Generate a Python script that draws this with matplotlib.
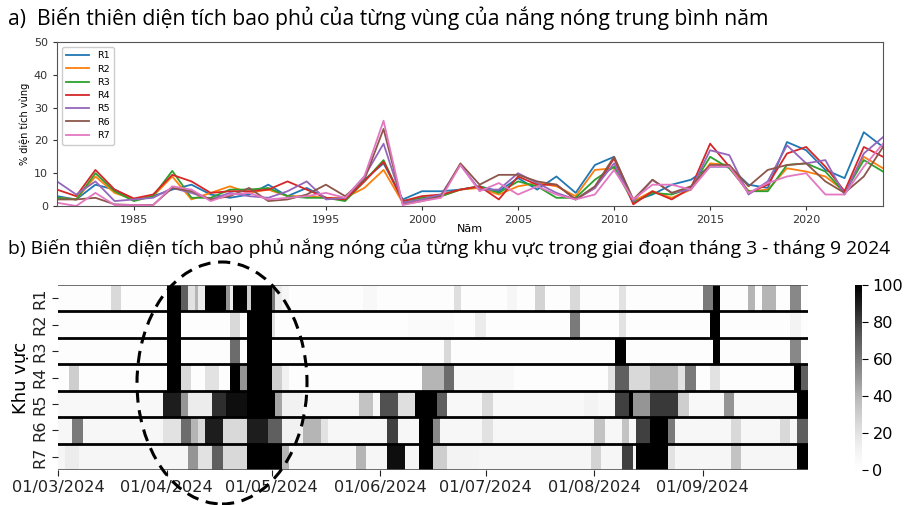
import numpy as np
import matplotlib
matplotlib.use("Agg")
import matplotlib.pyplot as plt
from matplotlib.patches import Ellipse

# =============================================================================
# Data
# =============================================================================

years = list(range(1981, 2025))
regions = ["R1", "R2", "R3", "R4", "R5", "R6", "R7"]

# Annual mean % of region area under heat
r1 = [3, 2, 6.5, 5, 2, 3, 5, 6.5, 3.5, 2.5, 3.5, 6.5, 3, 5.5, 2.5, 2, 8, 13, 2, 4.5,
      4.5, 5, 6, 4.5, 8.5, 5, 9, 4, 12.5, 15, 1.5, 3.5, 6.5, 8, 12, 12, 6.5, 5.5,
      19.5, 17, 11, 8.5, 22.5, 18]
r2 = [2.5, 2, 9, 4, 2, 3, 9, 2, 4, 6, 4, 5, 3, 3, 2.5, 2.5, 5.5, 11, 1, 2,
      3, 5, 5.5, 3.5, 6, 7, 6, 3, 11, 11.5, 1.5, 4.5, 2.5, 5, 13, 12.5, 4.5, 5,
      11.5, 10.5, 9, 4.5, 15, 11.5]
r3 = [2.5, 2, 10, 4.5, 1.5, 3, 10.7, 2.5, 2.5, 5, 5, 5.5, 3, 2.5, 2.5, 1.5, 7.5, 14, 1.5, 2.5,
      3, 5, 6, 4, 7.5, 6, 2.5, 2.5, 8, 12, 1, 4, 3.5, 5.5, 15, 11.5, 4.5, 4.5,
      12.5, 13, 10.5, 4, 14, 10.5]
r4 = [5, 3, 11, 5, 2.3, 3.5, 9.5, 7.5, 4, 4.5, 4.5, 5, 7.5, 5, 2.5, 2, 7.5, 13.5, 1.5, 3,
      3.5, 5, 6, 2, 9, 6.5, 6.5, 2, 5.5, 14.5, 0.5, 4.5, 2, 5.5, 19, 12, 4, 6.5,
      16, 18, 12, 4.5, 18, 15]
r5 = [7.5, 3.5, 7.5, 1.5, 2, 2.5, 5.5, 4, 2, 4, 3, 2.5, 4.5, 7.5, 2, 2.5, 9, 19, 1, 2,
      3.5, 12.5, 5, 5, 10, 7, 4, 2, 5.5, 13, 1.5, 8, 4, 5, 17, 15.5, 3.5, 7.5,
      18.5, 13, 14, 3.5, 16, 21]
r6 = [2, 2, 2.5, 0.5, 0.3, 0.3, 5.5, 4.5, 2, 3, 5.5, 1.5, 2, 3.5, 6.5, 3, 8, 23.5, 0.5, 1.5,
      3, 13, 6.5, 9.5, 9.5, 7.5, 6.5, 2, 6, 15, 2, 8, 4, 6, 12.5, 12.5, 6, 11,
      12.5, 13, 7.5, 4, 9, 18]
r7 = [1, 0, 4, 0.3, 0.3, 0.2, 6, 5, 1.5, 3.5, 4, 2, 2.5, 3, 4, 2.5, 9, 26, 0.3, 1.5,
      2.5, 12.5, 4.5, 7, 3.5, 6, 3.5, 2, 3.5, 11, 2, 6.5, 6.5, 5, 12, 12, 4, 7,
      9, 10, 3.5, 3.5, 12, 19]
series = [r1, r2, r3, r4, r5, r6, r7]

# Daily % coverage, 01/03/2024 - 30/09/2024 (panel b), as runs of
# (first day, day after last, value) over a light background level
n_days = 214
month_ticks = [0, 31, 61, 92, 122, 153, 184]
month_labels = ["01/03/2024", "01/04/2024", "01/05/2024", "01/06/2024",
                "01/07/2024", "01/08/2024", "01/09/2024"]

base_levels = [2, 2, 2, 2, 6, 7, 8]
runs_r1 = [(15, 18, 25), (31, 35, 100), (35, 37, 70), (37, 39, 20), (39, 40, 40),
           (40, 42, 15), (42, 48, 100), (48, 49, 50), (49, 50, 15), (50, 54, 100),
           (54, 55, 30), (55, 61, 100), (61, 62, 60), (62, 64, 15), (64, 66, 8),
           (87, 91, 6), (113, 115, 22), (128, 131, 8), (136, 139, 28), (146, 149, 25),
           (160, 162, 20), (184, 187, 60), (187, 189, 100), (197, 199, 40),
           (201, 205, 40), (209, 212, 55)]
runs_r2 = [(31, 35, 100), (49, 52, 25), (54, 61, 100), (61, 62, 20), (100, 113, 4),
           (119, 122, 15), (146, 149, 60), (160, 162, 20), (186, 189, 100),
           (209, 212, 10)]
runs_r3 = [(31, 35, 100), (49, 52, 65), (54, 61, 100), (110, 112, 25),
           (159, 162, 100), (187, 189, 100), (209, 212, 55)]
runs_r4 = [(3, 6, 30), (31, 35, 100), (35, 38, 25), (42, 46, 20), (49, 52, 100),
           (52, 54, 50), (54, 61, 100), (61, 64, 30), (64, 66, 12), (104, 110, 40),
           (110, 113, 65), (113, 130, 6), (157, 159, 20), (159, 163, 70),
           (163, 169, 25), (169, 177, 40), (177, 179, 20), (179, 182, 60),
           (186, 189, 20), (210, 212, 100), (212, 214, 70)]
runs_r5 = [(30, 35, 90), (35, 37, 50), (37, 44, 15), (44, 48, 85), (48, 54, 95),
           (54, 62, 100), (62, 64, 45), (64, 70, 12), (86, 90, 35), (92, 97, 75),
           (97, 102, 22), (102, 108, 100), (108, 111, 70), (121, 124, 25),
           (150, 154, 10), (159, 163, 80), (163, 164, 100), (164, 169, 50),
           (169, 177, 82), (177, 180, 30), (190, 193, 50), (211, 214, 100)]
runs_r6 = [(4, 7, 60), (30, 35, 20), (35, 38, 65), (38, 40, 40), (40, 42, 25),
           (42, 47, 90), (47, 54, 25), (54, 60, 90), (60, 64, 70), (64, 70, 12),
           (70, 75, 40), (75, 77, 20), (94, 97, 80), (103, 107, 100), (107, 109, 55),
           (121, 124, 20), (153, 156, 35), (161, 163, 35), (165, 169, 80),
           (169, 174, 100), (174, 176, 60), (192, 195, 25), (206, 209, 25),
           (211, 214, 70)]
runs_r7 = [(2, 6, 15), (37, 40, 50), (40, 44, 20), (44, 47, 70), (47, 54, 25),
           (54, 64, 100), (64, 66, 40), (85, 88, 40), (94, 99, 95), (103, 107, 100),
           (107, 111, 30), (111, 120, 10), (152, 155, 28), (161, 164, 80),
           (165, 174, 100), (174, 176, 20), (192, 195, 35), (211, 214, 100)]
all_runs = [runs_r1, runs_r2, runs_r3, runs_r4, runs_r5, runs_r6, runs_r7]

# =============================================================================
# Figure
# =============================================================================

W, H = 909, 505
fig = plt.figure(figsize=(W / 100, H / 100), dpi=100)

title_font = ["Open Sans", "DejaVu Sans"]
fig.text(8 / W, 1 - 18 / H,
         "a)  Biến thiên diện tích bao phủ của từng vùng của nắng nóng trung bình năm",
         fontsize=15.2, family=title_font, va="center", ha="left")
fig.text(8 / W, 1 - 248 / H,
         "b) Biến thiên diện tích bao phủ nắng nóng của từng khu vực trong giai đoạn tháng 3 - tháng 9 2024",
         fontsize=13.9, family=title_font, va="center", ha="left")

# --- panel a: annual lines ---------------------------------------------------
ax1 = fig.add_axes([57 / W, 1 - 206 / H, (883 - 57) / W, (206 - 42) / H])
for name, vals in zip(regions, series):
    ax1.plot(years, vals, lw=1.3, label=name)
ax1.set_xlim(1981, 2024)
ax1.set_ylim(0, 50)
ax1.set_xticks([1985, 1990, 1995, 2000, 2005, 2010, 2015, 2020])
ax1.set_yticks([0, 10, 20, 30, 40, 50])
ax1.tick_params(labelsize=8, length=3, width=0.8, colors="#333333")
for sp in ax1.spines.values():
    sp.set_color("#555555")
ax1.set_ylabel("% diện tích vùng", fontsize=7, labelpad=3)
ax1.set_xlabel("Năm", fontsize=8, labelpad=-1)
ax1.legend(loc="upper left", fontsize=6.8, handlelength=2.4, labelspacing=0.45,
           borderpad=0.5, framealpha=1, edgecolor="#cccccc")

# --- panel b: daily heatmap ---------------------------------------------------
grid = np.zeros((len(regions), n_days))
for i, (base, runs) in enumerate(zip(base_levels, all_runs)):
    grid[i, :] = base
    for start, stop, val in runs:
        grid[i, start:stop] = val

ax2 = fig.add_axes([58 / W, 1 - 470 / H, (808 - 58) / W, (470 - 285) / H])
mesh = ax2.pcolormesh(np.arange(n_days + 1), np.arange(len(regions) + 1), grid,
                      cmap="Greys", vmin=0, vmax=100, shading="flat")
ax2.set_xlim(0, n_days)
ax2.set_ylim(len(regions), 0)
for y in range(1, len(regions)):
    ax2.axhline(y, color="black", lw=2)
ax2.axhline(0, color="#555555", lw=1.2)
ax2.axhline(len(regions), color="#555555", lw=1.2)
for sp in ax2.spines.values():
    sp.set_visible(False)
ax2.set_xticks(month_ticks)
ax2.set_xticklabels(month_labels, fontsize=11.6)
ax2.set_yticks(np.arange(len(regions)) + 0.5)
ax2.set_yticklabels(regions, rotation=90, va="center", fontsize=11.6)
ax2.tick_params(axis="both", length=4, width=0.8, colors="#222222")
ax2.set_ylabel("Khu vực", fontsize=13, labelpad=2)

cax = fig.add_axes([855 / W, 1 - 470 / H, 7 / W, (470 - 285) / H])
cb = fig.colorbar(mesh, cax=cax, ticks=[0, 20, 40, 60, 80, 100])
cb.outline.set_visible(False)
cb.ax.tick_params(labelsize=11.6, length=4, width=0.8)

# dashed ellipse highlighting April
fig.add_artist(Ellipse((222 / W, 1 - 383 / H), 170 / W, 242 / H,
                       transform=fig.transFigure, fill=False, color="black",
                       lw=2.2, ls=(0, (4, 2.5))))

fig.savefig("out.png", dpi=100)
